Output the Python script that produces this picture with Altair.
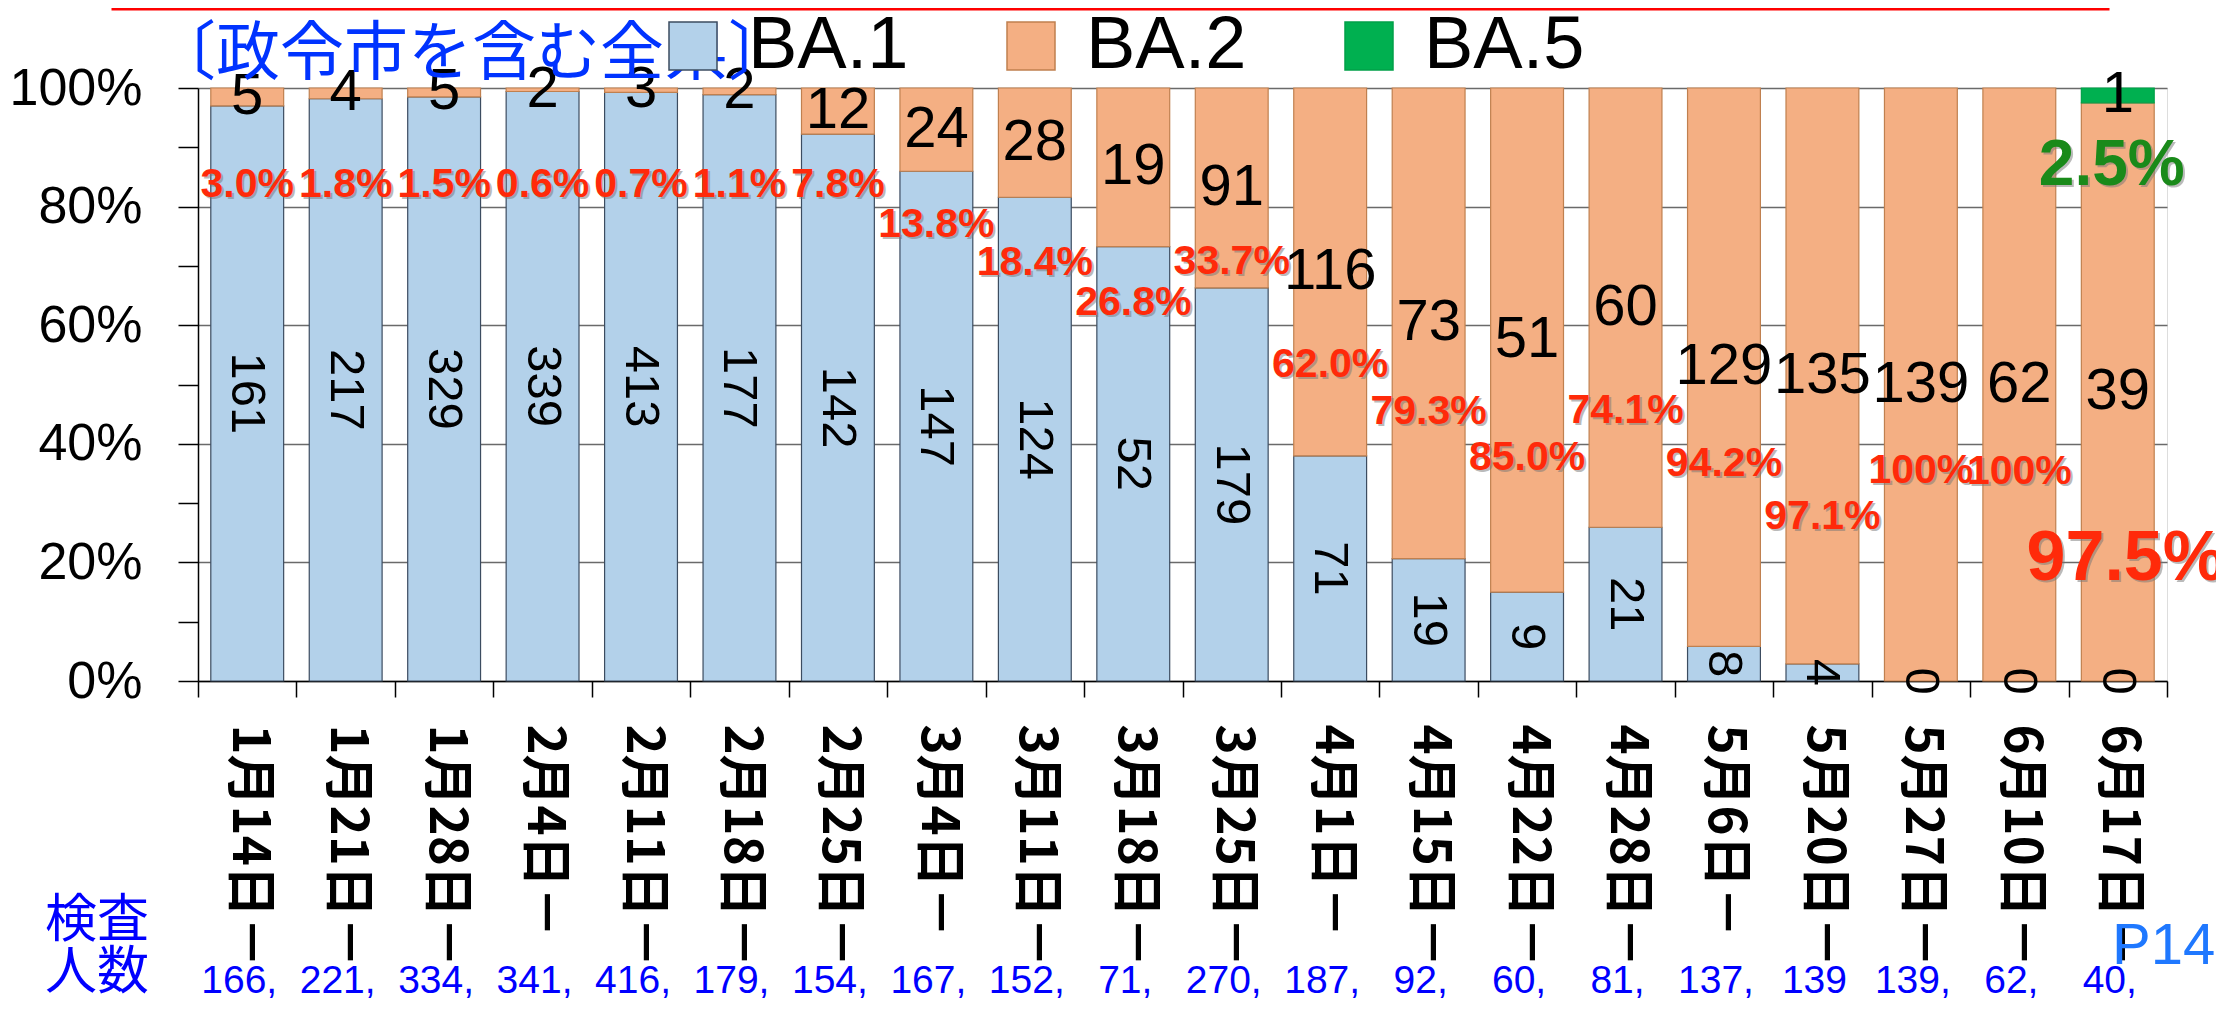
import altair as alt
import pandas as pd

# ---------------- data ----------------
dates = ["1月14日－", "1月21日－", "1月28日－", "2月4日－", "2月11日－", "2月18日－",
         "2月25日－", "3月4日－", "3月11日－", "3月18日－", "3月25日－", "4月1日－",
         "4月15日－", "4月22日－", "4月28日－", "5月6日－", "5月20日－", "5月27日－",
         "6月10日－", "6月17日－"]
ba1 = [161, 217, 329, 339, 413, 177, 142, 147, 124, 52, 179, 71, 19, 9, 21, 8, 4, 0, 0, 0]
ba2 = [5, 4, 5, 2, 3, 2, 12, 24, 28, 19, 91, 116, 73, 51, 60, 129, 135, 139, 62, 39]
ba5 = [0, 0, 0, 0, 0, 0, 0, 0, 0, 0, 0, 0, 0, 0, 0, 0, 0, 0, 0, 1]
totals = ["166,", "221,", "334,", "341,", "416,", "179,", "154,", "167,", "152,", "71,",
          "270,", "187,", "92,", "60,", "81,", "137,", "139", "139,", "62,", "40,"]
# BA.2 share labels (bars 1-19) and where they sit on the % axis
pct_text = ["3.0%", "1.8%", "1.5%", "0.6%", "0.7%", "1.1%", "7.8%", "13.8%", "18.4%",
            "26.8%", "33.7%", "62.0%", "79.3%", "85.0%", "74.1%", "94.2%", "97.1%",
            "100%", "100%"]
pct_pos = [83.6, 83.6, 83.6, 83.6, 83.6, 83.6, 83.6, 76.9, 70.5, 63.7, 70.7, 53.3,
           45.4, 37.6, 45.5, 36.6, 27.7, 35.4, 35.2]
# large labels on the last bar
big_ba2_text, big_ba2_pos = "97.5%", 20.6
big_ba5_text, big_ba5_pos = "2.5%", 86.8

variants = ["BA.1", "BA.2", "BA.5"]
fills = ["#B3D1EA", "#F4AF83", "#00B050"]
strokes = ["#3C4C60", "#C0804F", "#00A048"]

rows = []
for i, d in enumerate(dates):
    for k, (v, arr) in enumerate(zip(variants, [ba1, ba2, ba5])):
        rows.append({"date": d, "variant": v, "count": arr[i], "order": k})
df = pd.DataFrame(rows)

pct_df = pd.DataFrame({"date": dates[:19], "label": pct_text, "pos": pct_pos})
tot_df = pd.DataFrame({"date": dates, "label": totals})
big_red_df = pd.DataFrame({"date": [dates[19]], "label": [big_ba2_text], "pos": [big_ba2_pos]})
big_green_df = pd.DataFrame({"date": [dates[19]], "label": [big_ba5_text], "pos": [big_ba5_pos]})
one = pd.DataFrame({"k": [0]})

W, H = 1969, 593
SANS = "Liberation Sans"
JP = "Noto Sans CJK JP"

x_axis = alt.Axis(title=None, labelAngle=90, labelAlign="left", labelBaseline="middle",
                  labelFont=JP, labelFontSize=51, labelFontWeight="bold", labelColor="black",
                  labelPadding=27, labelLimit=600, labelOverlap=False, tickSize=16,
                  tickBand="extent", tickColor="black", tickWidth=1.5, domainColor="black",
                  domainWidth=1.5, grid=False)
x_enc = alt.X("date:N", sort=dates, scale=alt.Scale(paddingInner=0, paddingOuter=0), axis=x_axis)

y_scale = alt.Scale(domain=[0, 1], nice=False)
y_axis = alt.Axis(title=None, values=[0, 0.1, 0.2, 0.3, 0.4, 0.5, 0.6, 0.7, 0.8, 0.9, 1.0],
                  labelExpr="round(datum.value*10) % 2 == 0 ? format(datum.value, '.0%') : ''",
                  labelFont=SANS, labelFontSize=52, labelColor="black",
                  labelPadding=36, tickSize=20, tickColor="black", tickWidth=1.5,
                  domainColor="black", domainWidth=1.5, grid=True, gridColor="#6A6A6A",
                  gridWidth=1.5,
                  gridOpacity=alt.condition("round(datum.value*10) % 2 == 0", alt.value(1), alt.value(0)))

legend = alt.Legend(title=None, orient="none", legendX=458, legendY=-79, direction="horizontal",
                    symbolType="square", symbolSize=2304, symbolStrokeWidth=1.5,
                    labelFont=SANS, labelFontSize=74, labelColor="black",
                    labelOffset=18, columnPadding=85, labelLimit=400)

base = alt.Chart(df).transform_stack(
    stack="count", groupby=["date"], sort=[alt.SortField("order")],
    offset="normalize", as_=["y0", "y1"]
).transform_calculate(mid="(datum.y0 + datum.y1) / 2")

bars = base.transform_filter("datum.count > 0").mark_bar(
    width=alt.RelativeBandSize(0.74), strokeWidth=1.2
).encode(
    x=x_enc,
    y=alt.Y("y0:Q", scale=y_scale, axis=y_axis),
    y2="y1:Q",
    color=alt.Color("variant:N", scale=alt.Scale(domain=variants, range=fills), legend=legend),
    stroke=alt.Stroke("variant:N", scale=alt.Scale(domain=variants, range=strokes), legend=legend),
)

ba1_lbl = base.transform_filter("datum.variant == 'BA.1'").mark_text(
    angle=90, font=SANS, fontSize=49, color="black", align="center", baseline="middle"
).encode(x=x_enc, y=alt.Y("mid:Q", scale=y_scale, axis=y_axis), text="count:Q")

ba2_lbl = base.transform_filter("datum.variant == 'BA.2'").mark_text(
    font=SANS, fontSize=58, color="black", align="center", baseline="middle"
).encode(x=x_enc, y=alt.Y("mid:Q", scale=y_scale, axis=y_axis), text="count:Q")

ba5_lbl = base.transform_filter("datum.variant == 'BA.5' && datum.count > 0").mark_text(
    font=SANS, fontSize=58, color="black", align="center", baseline="middle"
).encode(x=x_enc, y=alt.Y("mid:Q", scale=y_scale, axis=y_axis), text="count:Q")


def pct_layer(data, color, size, dx, shadow):
    c = alt.Chart(data).transform_calculate(p="datum.pos / 100")
    kw = dict(font=SANS, fontWeight="bold", fontSize=size, align="center", baseline="middle")
    if shadow:
        m = c.mark_text(color="#777777", opacity=0.5, dx=dx + 2, dy=2, **kw)
    else:
        m = c.mark_text(color=color, dx=dx, **kw)
    return m.encode(x=x_enc, y=alt.Y("p:Q", scale=y_scale, axis=y_axis), text="label:N")


pct_layers = []
for data, color, size, dx in [(pct_df, "#FF2A0A", 41, 0), (big_red_df, "#FF2A0A", 70, 8),
                              (big_green_df, "#1A8A1A", 64, -6)]:
    pct_layers.append(pct_layer(data, color, size, dx, True))
    pct_layers.append(pct_layer(data, color, size, dx, False))

tot_lbl = alt.Chart(tot_df).mark_text(
    font=SANS, fontSize=39, color="#0000FF", align="center", baseline="alphabetic", dx=-8
).encode(x=x_enc, y=alt.value(905), text="label:N")

kensa = alt.Chart(one).mark_text(
    font=JP, fontSize=52, color="#0000FF", align="center", baseline="top", lineHeight=52
).encode(x=alt.value(-101), y=alt.value(808), text=alt.value(["検査", "人数"]))

p14 = alt.Chart(one).mark_text(
    font=SANS, fontSize=58, color="#1F78FF", align="left", baseline="alphabetic"
).encode(x=alt.value(1914), y=alt.value(876), text=alt.value("P14"))

title = alt.Chart(one).mark_text(
    font=JP, fontSize=64, color="#0033FF", align="left", baseline="middle"
).encode(x=alt.value(-46), y=alt.value(-33), text=alt.value("〔政令市を含む全県〕"))

red_box = alt.Chart(one).mark_rect(fillOpacity=0, stroke="#FF0000", strokeWidth=3).encode(
    x=alt.value(-85), x2=alt.value(1910), y=alt.value(-140), y2=alt.value(-79))

chart = alt.layer(
    bars, ba1_lbl, ba2_lbl, ba5_lbl, *pct_layers, tot_lbl, kensa, p14, title, red_box
).properties(
    width=W, height=H,
    padding={"left": 190, "top": 80, "right": 49, "bottom": 325},
    autosize=alt.AutoSizeParams(type="none"),
).configure_view(stroke="#555555", strokeWidth=1.5).configure(background="white")

chart.save("out.html", embed_options={"renderer": "svg", "actions": False})
